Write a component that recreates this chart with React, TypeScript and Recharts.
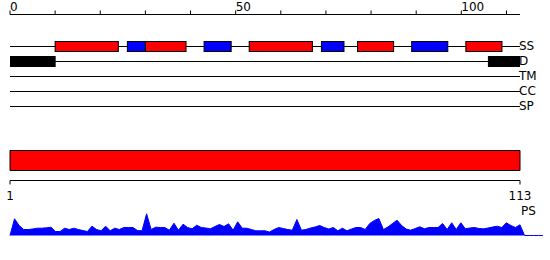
import { Area, AreaChart, Bar, BarChart, ReferenceDot, XAxis, YAxis } from "recharts"

const seqLength = 113
const tracks = ["SS", "D", "TM", "CC", "SP"]
const rulerTicks = [0, 10, 20, 30, 40, 50, 60, 70, 80, 90, 100, 110]
const chainTicks = [1, 113]

// secondary structure, H = helix (red), E = strand (blue)
const ssStart = [10, 26, 30, 43, 53, 69, 77, 89, 101]
const ssEnd = [24, 30, 39, 49, 67, 74, 85, 97, 109]
const ssType = ["H", "E", "H", "E", "H", "E", "H", "E", "H"]

// disordered regions
const disStart = [0, 106]
const disEnd = [10, 113]

// PS score per residue (1..118)
const psScore = [
  0, 16.7, 10, 6, 6, 6.5, 7.3, 7.3, 7.7, 8.3,
  4, 4, 7.3, 6, 7.3, 6, 5, 4, 9.3, 6,
  4.7, 9.3, 4.7, 7.3, 6, 8, 8, 8, 5, 4.7,
  21.7, 6, 8.3, 8, 8, 5.3, 12.3, 5.3, 11.3, 8,
  6.7, 10.3, 8, 7.5, 6.7, 9, 11, 9, 11.7, 5.3,
  13.7, 7.3, 7.3, 6, 4.7, 4.7, 4.7, 3.5, 6, 8,
  7, 6, 5.3, 16, 5.3, 6, 7.5, 8.5, 10, 8,
  6.5, 8, 4.7, 7.3, 4.7, 6.5, 8, 8, 6, 12,
  15, 17, 6, 8.5, 12, 15.3, 10, 6.5, 5.3, 7,
  8.7, 6.7, 8, 8, 8, 12, 6, 12.7, 6, 12.7,
  6.7, 7.5, 8, 7, 6.7, 7.5, 8.5, 9.3, 8, 12.7,
  10, 8, 10.7, 0, 0, 0, 0, 0,
]

const font = "DejaVu Sans"

const trackRows = tracks.map((track) => {
  const row: any = { track, span: [0, seqLength] }
  if (track === "SS") ssStart.forEach((s, i) => (row["s" + i] = [s, ssEnd[i]]))
  if (track === "D") disStart.forEach((s, i) => (row["s" + i] = [s, disEnd[i]]))
  return row
})
const segKeys = ssStart.map((_, i) => "s" + i)

const chainRows = [{ name: "chain", range: [chainTicks[0], seqLength] }]

const psRows = psScore.map((score, i) => ({ pos: i + 1, score }))

function segColor(track: string, k: number) {
  if (track === "D") return "#000000"
  return ssType[k] === "H" ? "#ff0000" : "#0000ff"
}

function Segment(props: any) {
  const { x, y, width, height, payload, seg } = props
  if (!(width > 0) || !(height > 0)) return null
  return <rect x={x} y={y} width={width} height={height} fill={segColor(payload.track, seg)} stroke="#000" strokeWidth={1} />
}

function TrackLine(props: any) {
  const { x, y, width, height } = props
  if (!(width > 0)) return null
  const cy = y + height / 2
  return <line x1={x} x2={x + width} y1={cy} y2={cy} stroke="#000" strokeWidth={1} />
}

function RulerTick(props: any) {
  const { x, y, payload } = props
  if (payload.value % 50 !== 0) return <g />
  return (
    <text x={x} y={y} textAnchor="start" fontSize={12} fontFamily={font} fill="#000">
      {payload.value}
    </text>
  )
}

function TrackLabel(props: any) {
  const { x, y, payload } = props
  return (
    <text x={x - 1} y={y} dy="0.35em" textAnchor="start" fontSize={12} fontFamily={font} fill="#000">
      {payload.value}
    </text>
  )
}

function ChainTick(props: any) {
  const { x, y, payload } = props
  return (
    <text x={x} y={y} dy={13.5} textAnchor="middle" fontSize={12} fontFamily={font} fill="#000">
      {payload.value}
    </text>
  )
}

export default function App() {
  return (
    <div style={{ position: "absolute", left: 0, top: 0, width: 550, height: 260, background: "#fff", fontFamily: font }}>
      <div style={{ position: "absolute", left: 0, top: 0 }}>
        <BarChart
          layout="vertical"
          width={550}
          height={120}
          data={trackRows}
          barSize={10}
          barGap={-10}
          margin={{ top: 0.5, right: 0, bottom: 6.5, left: 10 }}
        >
          <XAxis
            type="number"
            orientation="top"
            domain={[0, seqLength]}
            ticks={rulerTicks}
            interval={0}
            height={14}
            tickSize={4}
            tickMargin={0}
            stroke="#000"
            tick={<RulerTick />}
            allowDataOverflow
          />
          <YAxis
            type="category"
            dataKey="track"
            orientation="right"
            width={30}
            axisLine={false}
            tickLine={false}
            tickSize={0}
            tickMargin={0}
            interval={0}
            padding={{ top: 24, bottom: 0 }}
            tick={<TrackLabel />}
          />
          <Bar dataKey="span" shape={<TrackLine />} isAnimationActive={false} />
          {segKeys.map((key, k) => (
            <Bar key={key} dataKey={key} shape={(p: any) => <Segment {...p} seg={k} />} isAnimationActive={false} />
          ))}
        </BarChart>
      </div>
      <div style={{ position: "absolute", left: 0, top: 140 }}>
        <BarChart layout="vertical" width={550} height={72} data={chainRows} margin={{ top: 0.5, right: 30, bottom: 1.5, left: 10 }}>
          <XAxis
            type="number"
            domain={[chainTicks[0], seqLength]}
            ticks={chainTicks}
            interval={0}
            height={30}
            tickSize={4}
            stroke="#000"
            tick={<ChainTick />}
          />
          <YAxis type="category" dataKey="name" hide />
          <Bar dataKey="range" barSize={20} fill="#ff0000" stroke="#000" strokeWidth={1} isAnimationActive={false} />
        </BarChart>
      </div>
      <div style={{ position: "absolute", left: 0, top: 200 }}>
        <AreaChart width={550} height={36} data={psRows} margin={{ top: 5.5, right: 7.23, bottom: 0.5, left: 10 }}>
          <XAxis type="number" dataKey="pos" domain={[1, psRows.length]} hide />
          <YAxis type="number" domain={[0, 30]} hide />
          <Area
            type="linear"
            dataKey="score"
            stroke="#0000ff"
            strokeWidth={1}
            fill="#0000ff"
            fillOpacity={1}
            dot={false}
            activeDot={false}
            isAnimationActive={false}
          />
          <ReferenceDot
            x={seqLength}
            y={24.5}
            r={0}
            fill="none"
            stroke="none"
            label={{ value: "PS", position: "right", offset: 1, fill: "#000", fontSize: 12, fontFamily: font }}
          />
        </AreaChart>
      </div>
    </div>
  )
}
